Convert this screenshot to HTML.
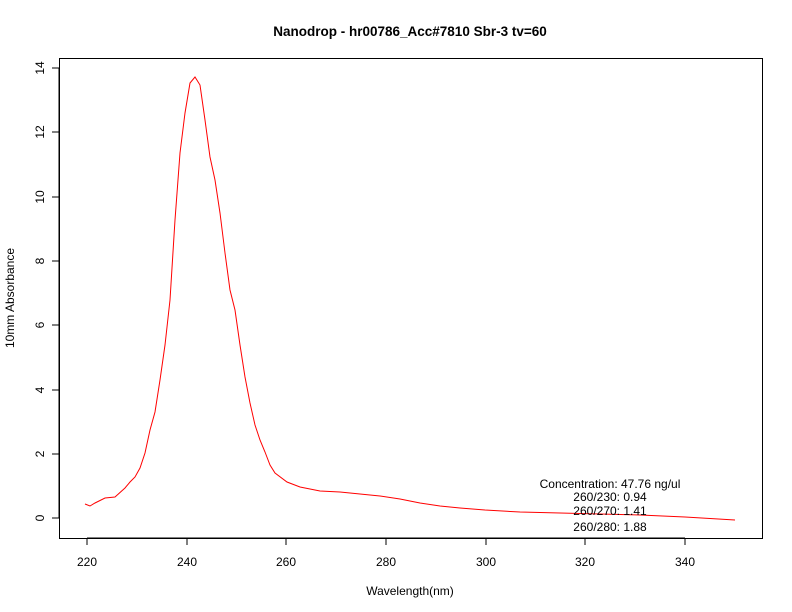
<!DOCTYPE html>
<html><head><style>body{margin:0;background:#fff}svg{display:block}text{font-family:"Liberation Sans",sans-serif;font-size:12px}</style></head><body>
<svg width="792" height="612" xmlns="http://www.w3.org/2000/svg">
<rect x="59.5" y="58.5" width="703" height="480" fill="none" stroke="#000"/>
<text x="410" y="36" text-anchor="middle" font-weight="bold" style="font-size:13.5px">Nanodrop - hr00786_Acc#7810 Sbr-3 tv=60</text>
<g stroke="#000">
<line x1="87" y1="538" x2="685" y2="538"/>
<line x1="87" y1="538" x2="87" y2="545"/><line x1="187" y1="538" x2="187" y2="545"/><line x1="286" y1="538" x2="286" y2="545"/><line x1="386" y1="538" x2="386" y2="545"/><line x1="486" y1="538" x2="486" y2="545"/><line x1="585" y1="538" x2="585" y2="545"/><line x1="685" y1="538" x2="685" y2="545"/>
<line x1="59" y1="68" x2="59" y2="518"/>
<line x1="52" y1="518" x2="59" y2="518"/><line x1="52" y1="454" x2="59" y2="454"/><line x1="52" y1="390" x2="59" y2="390"/><line x1="52" y1="325" x2="59" y2="325"/><line x1="52" y1="261" x2="59" y2="261"/><line x1="52" y1="197" x2="59" y2="197"/><line x1="52" y1="132" x2="59" y2="132"/><line x1="52" y1="68" x2="59" y2="68"/>
</g>
<g text-anchor="middle">
<text x="87" y="566">220</text><text x="187" y="566">240</text><text x="286" y="566">260</text><text x="386" y="566">280</text><text x="486" y="566">300</text><text x="585" y="566">320</text><text x="685" y="566">340</text>
<text x="410" y="595">Wavelength(nm)</text>
</g>
<g text-anchor="middle">
<text transform="translate(44,518) rotate(-90)">0</text>
<text transform="translate(44,454) rotate(-90)">2</text>
<text transform="translate(44,390) rotate(-90)">4</text>
<text transform="translate(44,325) rotate(-90)">6</text>
<text transform="translate(44,261) rotate(-90)">8</text>
<text transform="translate(44,197) rotate(-90)">10</text>
<text transform="translate(44,132) rotate(-90)">12</text>
<text transform="translate(44,68) rotate(-90)">14</text>
<text transform="translate(14,298) rotate(-90)">10mm Absorbance</text>
</g>
<polyline fill="none" stroke="#f00" stroke-width="1" points="85,504 90,506 95,503 105,498 115,497 125,488 130,482 135,477 140,468 145,453 150,430 155,412 160,380 165,345 170,300 175,220 180,153 185,113 190,83 195,77 200,85 205,120 210,157 215,180 220,213 225,253 230,290 235,310 240,345 245,377 250,403 255,425 260,440 265,452 270,465 275,473 287,482 300,487 320,491 340,492 360,494 380,496 400,499 420,503 440,506 460,508 485,510 520,512 560,513 600,514 640,515 685,517 735,520"/>
<g text-anchor="middle">
<text x="610" y="488">Concentration: 47.76 ng/ul</text>
<text x="610" y="501">260/230: 0.94</text>
<text x="610" y="515">260/270: 1.41</text>
<text x="610" y="531">260/280: 1.88</text>
</g>
</svg>
</body></html>
